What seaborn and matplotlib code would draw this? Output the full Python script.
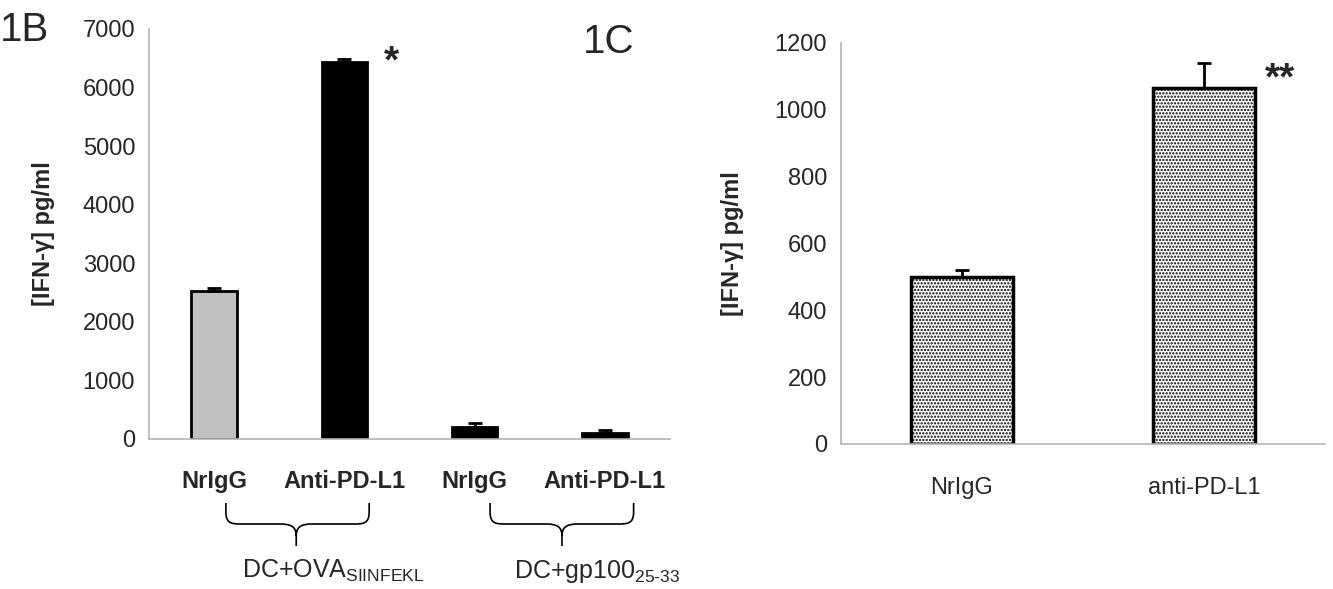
import numpy as np
import pandas as pd
import matplotlib
matplotlib.use("Agg")
import matplotlib.pyplot as plt
import seaborn as sns
from matplotlib.path import Path
from matplotlib.patches import PathPatch
from matplotlib.transforms import blended_transform_factory

# Panel 1B data
b_groups = ["OVA NrIgG", "OVA Anti", "gp NrIgG", "gp Anti"]
b_labels = ["NrIgG", "Anti-PD-L1", "NrIgG", "Anti-PD-L1"]
b_values = [2530, 6430, 210, 110]
b_errors = [50, 50, 60, 40]
b_colors = ["#c0c0c0", "#000000", "#000000", "#000000"]
b_brace_text = [r"DC+OVA$_{\mathregular{SIINFEKL}}$", r"DC+gp100$_{\mathregular{25\text{-}33}}$"]

# Panel 1C data
c_labels = ["NrIgG", "anti-PD-L1"]
c_values = [500, 1065]
c_errors = [20, 75]

sns.set_style("white")
plt.rcParams["font.family"] = ["Liberation Sans", "DejaVu Sans"]
plt.rcParams["mathtext.fontset"] = "custom"
plt.rcParams["mathtext.rm"] = "Liberation Sans"
plt.rcParams["hatch.linewidth"] = 1.1

fig = plt.figure(figsize=(13.33, 5.89), dpi=100)
axb = fig.add_axes([0.1118, 0.2547, 0.3909, 0.6961])
axc = fig.add_axes([0.6309, 0.2462, 0.3631, 0.6808])

spine_col = "#b4b4b4"

def style_axis(ax):
    for s in ["top", "right"]:
        ax.spines[s].set_visible(False)
    for s in ["left", "bottom"]:
        ax.spines[s].set_color(spine_col)
        ax.spines[s].set_linewidth(1.2)
    ax.tick_params(axis="y", which="major", direction="out", length=4, width=1,
                   color=spine_col, labelsize=17, pad=6)
    ax.tick_params(axis="x", which="major", direction="out", length=6, width=1,
                   color=spine_col, labelbottom=False)

# ---- 1B ----
dfb = pd.DataFrame({"group": b_groups, "value": b_values})
sns.barplot(data=dfb, x="group", y="value", hue="group", palette=b_colors,
            legend=False, width=0.35, edgecolor="black", linewidth=2, ax=axb)
axb.errorbar(range(len(b_values)), b_values, yerr=[[0] * 4, b_errors], fmt="none",
             ecolor="black", elinewidth=2, capsize=5, capthick=2)
axb.set_ylim(0, 7000)
axb.set_xlim(-0.5, len(b_values) - 0.5)
axb.set_yticks(np.arange(0, 7001, 1000))
axb.set_xticks(np.arange(-0.5, len(b_values), 1.0))
axb.set_xticks(range(len(b_values)), minor=True)
axb.set_xticklabels(b_labels, minor=True, fontweight="bold", fontsize=17)
style_axis(axb)
axb.tick_params(axis="x", which="minor", length=0, pad=22)
axb.set_xlabel("")
axb.set_ylabel("[IFN-γ] pg/ml", fontsize=17, fontweight="bold")
axb.yaxis.set_label_coords(-0.18, 0.5)
axb.text(1.3, 6430, "*", fontsize=28, fontweight="bold", ha="left", va="center")

# braces under the groups
tr = blended_transform_factory(axb.transData, fig.transFigure)
px = 130.25  # pixels per category
def brace(ax, x0, x1, xm):
    yt, yc, ym, yp, yb = 503, 512, 524, 536, 546
    f = lambda p: 1 - p / 589
    r = 16 / px
    verts = [(x0, f(yt)), (x0, f(yc)),
             (x0, f(ym)), (x0 + r * 0.4, f(ym)), (x0 + r, f(ym)),
             (xm - r, f(ym)),
             (xm - r * 0.3, f(ym)), (xm, f(ym + 3)), (xm, f(yp)),
             (xm, f(yb)),
             (xm, f(yp)), (xm, f(ym + 3)), (xm + r * 0.3, f(ym)), (xm + r, f(ym)),
             (x1 - r, f(ym)),
             (x1 - r * 0.4, f(ym)), (x1, f(ym)), (x1, f(yc)),
             (x1, f(yt))]
    codes = [Path.MOVETO, Path.LINETO,
             Path.CURVE4, Path.CURVE4, Path.CURVE4,
             Path.LINETO,
             Path.CURVE4, Path.CURVE4, Path.CURVE4,
             Path.LINETO,
             Path.MOVETO, Path.CURVE4, Path.CURVE4, Path.CURVE4,
             Path.LINETO,
             Path.CURVE4, Path.CURVE4, Path.CURVE4,
             Path.LINETO]
    ax.add_patch(PathPatch(Path(verts, codes), transform=tr, fill=False,
                           edgecolor="black", linewidth=1.2, clip_on=False))

brace(axb, 0.09, 1.19, 0.63)
brace(axb, 2.118, 3.22, 2.67)
axb.text(0.214, 1 - 578 / 589, b_brace_text[0], transform=tr, fontsize=18,
         ha="left", va="baseline")
axb.text(2.30, 1 - 578 / 589, b_brace_text[1], transform=tr, fontsize=18,
         ha="left", va="baseline")

# ---- 1C ----
dfc = pd.DataFrame({"group": c_labels, "value": c_values})
sns.barplot(data=dfc, x="group", y="value", color="white", width=0.42,
            edgecolor="black", linewidth=2.5, hatch=".....", ax=axc)
axc.errorbar(range(len(c_values)), c_values, yerr=[[0] * 2, c_errors], fmt="none",
             ecolor="black", elinewidth=2, capsize=5, capthick=2)
axc.set_ylim(0, 1200)
axc.set_xlim(-0.5, len(c_values) - 0.5)
axc.set_yticks(np.arange(0, 1201, 200))
axc.set_xticks(np.arange(-0.5, len(c_values), 1.0))
axc.set_xticks(range(len(c_values)), minor=True)
axc.set_xticklabels(c_labels, minor=True, fontsize=17)
style_axis(axc)
axc.tick_params(axis="x", which="minor", length=0, pad=24)
axc.set_xlabel("")
axc.set_ylabel("[IFN-γ] pg/ml", fontsize=17, fontweight="bold")
axc.yaxis.set_label_coords(-0.2, 0.5)
axc.text(1.25, 1090, "**", fontsize=28, fontweight="bold", ha="left", va="center")

fig.text(0.0, 1 - 30 / 589, "1B", fontsize=29, ha="left", va="center")
fig.text(0.437, 1 - 42 / 589, "1C", fontsize=29, ha="left", va="center")

fig.savefig("out.png", dpi=100)
